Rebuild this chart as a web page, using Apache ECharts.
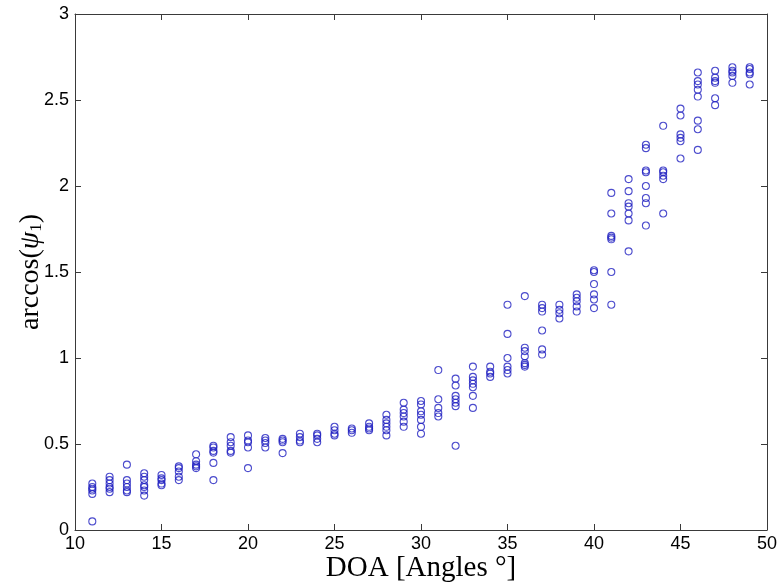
<!DOCTYPE html>
<html>
<head>
<meta charset="utf-8">
<script src="https://cdn.jsdelivr.net/npm/echarts@6/dist/echarts.min.js"></script>
<style>html,body{margin:0;padding:0;background:#fff;}#c{width:780px;height:585px;}</style>
</head>
<body>
<div id="c"></div>
<script>
const angles = [11,12,13,14,15,16,17,18,19,20,21,22,23,24,25,26,27,28,29,30,31,32,33,34,35,36,37,38,39,40,41,42,43,44,45,46,47,48,49];
const arccosValues = [
  [0.27,0.25,0.24,0.23,0.21,0.05],
  [0.31,0.29,0.27,0.25,0.24,0.22],
  [0.38,0.29,0.27,0.25,0.23,0.22],
  [0.33,0.31,0.29,0.26,0.25,0.23,0.20],
  [0.32,0.30,0.29,0.27,0.26],
  [0.37,0.36,0.34,0.31,0.29],
  [0.44,0.40,0.38,0.37,0.36],
  [0.49,0.48,0.46,0.45,0.39,0.29],
  [0.54,0.51,0.49,0.46,0.45],
  [0.55,0.52,0.51,0.48,0.36],
  [0.535,0.52,0.506,0.48],
  [0.53,0.52,0.51,0.447],
  [0.56,0.54,0.52,0.51],
  [0.56,0.55,0.53,0.51],
  [0.60,0.58,0.56,0.55],
  [0.59,0.58,0.565],
  [0.62,0.60,0.59,0.58],
  [0.67,0.64,0.62,0.60,0.58,0.55],
  [0.74,0.70,0.68,0.66,0.63,0.60],
  [0.75,0.73,0.69,0.67,0.64,0.60,0.56],
  [0.93,0.76,0.71,0.68,0.66],
  [0.88,0.84,0.78,0.76,0.74,0.72,0.49],
  [0.95,0.89,0.87,0.85,0.83,0.78,0.71],
  [0.95,0.92,0.91,0.89],
  [1.31,1.14,1.00,0.95,0.93,0.91],
  [1.36,1.06,1.04,1.01,0.97,0.96,0.95],
  [1.31,1.29,1.27,1.16,1.05,1.02],
  [1.31,1.28,1.26,1.23],
  [1.37,1.35,1.33,1.30,1.27],
  [1.51,1.50,1.43,1.37,1.34,1.29],
  [1.96,1.84,1.71,1.70,1.69,1.50,1.31],
  [2.04,1.97,1.90,1.88,1.84,1.80,1.62],
  [2.24,2.22,2.09,2.08,2.00,1.93,1.90,1.77],
  [2.35,2.09,2.08,2.06,2.04,1.84],
  [2.45,2.41,2.30,2.28,2.26,2.16],
  [2.66,2.61,2.59,2.56,2.52,2.38,2.33,2.21],
  [2.67,2.63,2.61,2.60,2.51,2.47],
  [2.69,2.67,2.66,2.64,2.60],
  [2.69,2.68,2.66,2.65,2.59]
];
const xTicks = [10,15,20,25,30,35,40,45,50];
const yTicks = [0,0.5,1,1.5,2,2.5,3];

const points = [];
angles.forEach((a, i) => arccosValues[i].forEach(v => points.push([a, v])));

const axisCol = '#3a3a3a';
const serif = 'Liberation Serif, DejaVu Serif, serif';
const lblStyle = {color:'#000', fontSize:18, fontFamily:'Liberation Sans, Arial, sans-serif'};
const chart = echarts.init(document.getElementById('c'), null, {renderer:'canvas'});
chart.setOption({
  animation:false,
  backgroundColor:'#fff',
  grid:{left:75, right:13, top:14, bottom:55, containLabel:false, outerBoundsMode:'none'},
  xAxis:[{
    type:'value', min:10, max:50, interval:5, position:'bottom',
    axisLine:{show:true, onZero:false, lineStyle:{color:axisCol, width:1}},
    axisTick:{show:true, inside:true, length:6, lineStyle:{color:axisCol}},
    axisLabel:{...lblStyle, margin:5, formatter:v => xTicks.includes(v) ? String(v) : ''},
    splitLine:{show:false},
    name:'DOA [Angles °]', nameLocation:'middle', nameGap:24, nameMoveOverlap:false,
    nameTextStyle:{color:'#000', fontSize:29, fontFamily:serif}
  },{
    type:'value', min:10, max:50, interval:5, position:'top',
    axisLine:{show:true, onZero:false, lineStyle:{color:axisCol, width:1}},
    axisTick:{show:true, inside:true, length:6, lineStyle:{color:axisCol}},
    axisLabel:{show:false}, splitLine:{show:false}
  }],
  yAxis:[{
    type:'value', min:0, max:3, interval:0.5, position:'left',
    axisLine:{show:true, onZero:false, lineStyle:{color:axisCol, width:1}},
    axisTick:{show:true, inside:true, length:6, lineStyle:{color:axisCol}},
    axisLabel:{...lblStyle, margin:6, formatter:v => yTicks.includes(v) ? String(v) : ''},
    splitLine:{show:false},
    name:'arccos({i|ψ}{s|1})', nameLocation:'middle', nameGap:30, nameRotate:90, nameMoveOverlap:false,
    nameTextStyle:{color:'#000', fontSize:28, fontFamily:serif,
      rich:{
        i:{fontSize:28, fontStyle:'italic', fontFamily:serif, color:'#000'},
        s:{fontSize:17, fontFamily:serif, color:'#000', padding:[11,0,0,0]}
      }}
  },{
    type:'value', min:0, max:3, interval:0.5, position:'right',
    axisLine:{show:true, onZero:false, lineStyle:{color:axisCol, width:1}},
    axisTick:{show:true, inside:true, length:6, lineStyle:{color:axisCol}},
    axisLabel:{show:false}, splitLine:{show:false}
  }],
  series:[{
    type:'scatter', xAxisIndex:0, yAxisIndex:0,
    data:points, symbol:'circle', symbolSize:7,
    itemStyle:{color:'rgba(0,0,0,0)', borderColor:'#1f1fc0', borderWidth:1.1},
    emphasis:{disabled:true}
  }]
});
</script>
</body>
</html>
